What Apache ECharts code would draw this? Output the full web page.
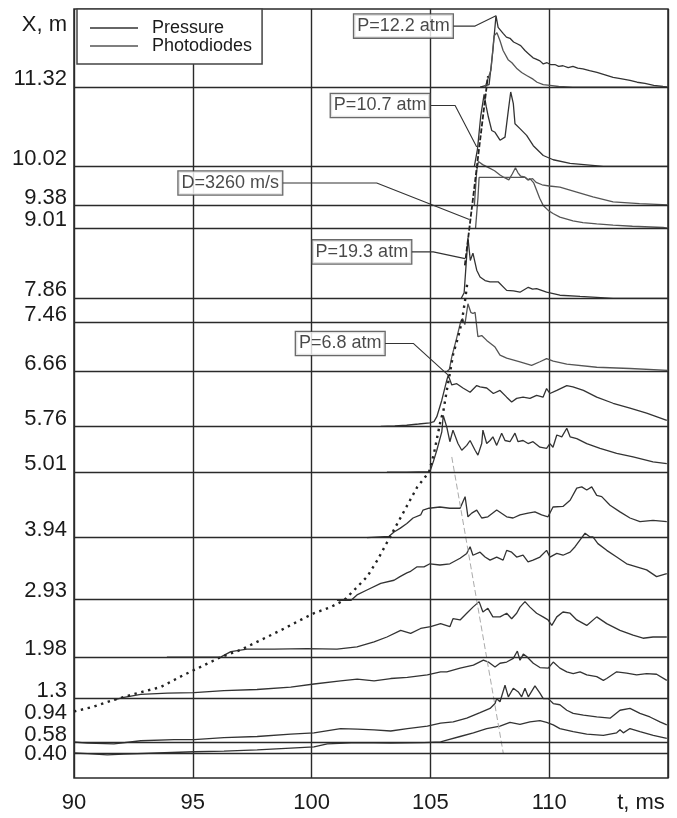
<!DOCTYPE html>
<html><head><meta charset="utf-8">
<script src="https://cdn.jsdelivr.net/npm/echarts@6/dist/echarts.min.js"></script>
<style>html,body{margin:0;padding:0;background:#fff}#c{width:677px;height:818px}</style>
</head><body><div id="c"></div>
<script>
const FONT = '"Liberation Sans", Arial, Helvetica, sans-serif';

// Axis ticks / labels
const yTickValues = [0.40, 0.58, 0.94, 1.3, 1.98, 2.93, 3.94, 5.01, 5.76, 6.66, 7.46, 7.86, 9.01, 9.38, 10.02, 11.32];
const yTickLabels = ['0.40', '0.58', '0.94', '1.3', '1.98', '2.93', '3.94', '5.01', '5.76', '6.66', '7.46', '7.86', '9.01', '9.38', '10.02', '11.32'];
const stationLines = [0.40, 0.58, 1.3, 1.98, 2.93, 3.94, 5.01, 5.76, 6.66, 7.46, 7.86, 9.01, 9.38, 10.02, 11.32];

// Traces [t (ms), X (m)]
const p1132 = [[107.09,11.32],[107.47,11.36],[107.63,11.92],[107.76,12.49],[107.85,12.30],[108.06,12.20],[108.2,12.14],[108.35,12.12],[108.5,12.06],[108.65,12.03],[108.8,12.0],[108.98,11.92],[109.15,11.86],[109.32,11.80],[109.45,11.78],[109.61,11.75],[109.75,11.70],[109.91,11.72],[110.05,11.69],[110.24,11.69],[110.4,11.66],[110.58,11.67],[110.8,11.64],[111.0,11.66],[111.2,11.63],[111.42,11.62],[111.7,11.59],[112.01,11.56],[112.35,11.52],[112.69,11.48],[113.0,11.46],[113.4,11.43],[113.7,11.40],[114.03,11.38],[114.4,11.35],[114.79,11.33],[115,11.32]];
const f1132 = [[107.3,11.32],[107.55,11.6],[107.68,12.16],[107.8,12.21],[107.93,12.08],[108.06,11.92],[108.27,11.77],[108.43,11.72],[108.65,11.62],[108.84,11.56],[109.05,11.51],[109.32,11.45],[109.49,11.40],[109.75,11.36],[110.03,11.35],[110.4,11.33],[111.0,11.32],[115,11.32]];
const p1002 = [[106.85,10.02],[106.98,10.3],[107.12,10.85],[107.26,11.2],[107.35,11.0],[107.44,10.83],[107.58,10.61],[107.72,10.58],[107.93,10.45],[108.14,10.50],[108.28,10.94],[108.38,11.24],[108.49,11.05],[108.56,10.72],[108.77,10.64],[109.05,10.53],[109.33,10.36],[109.75,10.20],[110.17,10.13],[110.88,10.07],[112.28,10.02],[115,10.02]];
const f938 = [[106.85,9.38],[106.95,9.95],[107.02,10.1],[107.2,10.05],[107.45,10.0],[107.7,9.95],[107.93,9.88],[108.1,9.84],[108.3,9.80],[108.45,9.9],[108.58,10.0],[108.68,9.92],[108.8,9.86],[108.95,9.85],[109.12,9.80],[109.3,9.82],[109.45,9.76],[109.7,9.72],[110.0,9.70],[110.45,9.68],[111.16,9.60],[111.84,9.52],[112.69,9.44],[113.8,9.41],[115,9.39]];
const f901 = [[106.9,9.01],[107.0,9.5],[107.05,9.84],[109.0,9.84],[109.1,9.80],[109.19,9.82],[109.35,9.75],[109.47,9.63],[109.6,9.50],[109.75,9.38],[109.96,9.30],[110.16,9.25],[110.45,9.19],[111.0,9.13],[111.42,9.10],[112.0,9.08],[112.69,9.06],[113.5,9.04],[114.79,9.02],[115,9.01]];
const p786 = [[106.3,7.86],[106.42,7.95],[106.5,8.4],[106.58,8.85],[106.68,8.48],[106.79,8.60],[106.95,8.32],[107.09,8.21],[107.3,8.15],[107.51,8.13],[107.85,8.13],[108.21,7.99],[108.5,7.98],[108.77,7.96],[109.12,8.04],[109.3,8.01],[109.47,8.02],[109.89,7.96],[110.45,7.91],[111.3,7.89],[112.69,7.86],[115,7.86]];
const f666 = [[105.7,6.66],[105.8,6.70],[105.9,6.9],[106.1,7.2],[106.27,7.47],[106.35,7.53],[106.45,7.43],[106.58,7.77],[106.7,7.63],[106.79,7.61],[106.88,7.63],[107.0,7.23],[107.16,7.25],[107.37,7.17],[107.72,7.06],[107.93,6.93],[108.21,6.88],[108.77,6.82],[109.26,6.76],[109.61,6.82],[109.89,6.87],[110.17,6.83],[110.74,6.78],[112.0,6.73],[113.4,6.71],[115,6.68]];
const p576 = [[102.91,5.76],[103.5,5.77],[104.0,5.78],[104.5,5.80],[104.98,5.82],[105.15,5.84],[105.27,5.92],[105.48,6.19],[105.69,6.52],[105.75,6.60],[105.9,6.44],[106.11,6.46],[106.37,6.39],[106.67,6.32],[106.95,6.43],[107.09,6.41],[107.37,6.39],[107.65,6.30],[107.93,6.35],[108.21,6.24],[108.42,6.16],[108.63,6.22],[108.9,6.24],[109.19,6.22],[109.47,6.27],[109.74,6.24],[109.89,6.38],[110.03,6.30],[110.32,6.35],[110.74,6.43],[111.0,6.41],[111.44,6.35],[112.0,6.24],[112.69,6.14],[113.4,6.06],[114.1,5.98],[114.95,5.86]];
const p501 = [[103.17,5.01],[104.0,5.01],[104.98,5.02],[105.12,5.18],[105.27,5.37],[105.48,5.67],[105.54,5.94],[105.69,5.75],[105.82,5.51],[105.95,5.70],[106.16,5.48],[106.32,5.37],[106.53,5.45],[106.67,5.53],[106.88,5.37],[107.0,5.29],[107.16,5.48],[107.21,5.70],[107.37,5.48],[107.51,5.53],[107.63,5.59],[107.79,5.45],[108.0,5.65],[108.14,5.53],[108.35,5.51],[108.56,5.65],[108.69,5.51],[108.9,5.53],[109.11,5.48],[109.32,5.51],[109.61,5.42],[109.89,5.40],[110.03,5.48],[110.16,5.42],[110.32,5.62],[110.53,5.59],[110.74,5.73],[110.88,5.59],[111.16,5.56],[111.58,5.48],[112.14,5.40],[112.84,5.32],[113.53,5.26],[114.37,5.18],[114.95,5.15]];
const p394 = [[102.33,3.94],[103.26,3.96],[103.47,4.03],[103.72,4.09],[104.01,4.17],[104.27,4.26],[104.59,4.31],[104.69,4.39],[104.94,4.42],[105.4,4.44],[105.82,4.42],[106.25,4.42],[106.46,4.61],[106.58,4.28],[106.74,4.34],[106.95,4.39],[107.16,4.26],[107.42,4.28],[107.79,4.39],[108.21,4.28],[108.48,4.26],[108.77,4.31],[109.11,4.34],[109.4,4.36],[109.68,4.31],[109.95,4.28],[110.16,4.44],[110.58,4.45],[110.88,4.55],[111.16,4.75],[111.37,4.77],[111.58,4.72],[111.79,4.77],[112.0,4.63],[112.21,4.61],[112.56,4.47],[112.98,4.36],[113.4,4.26],[113.82,4.20],[114.37,4.22],[114.95,4.20]];
const p293 = [[101.07,2.91],[101.65,2.91],[101.91,3.00],[102.33,3.08],[102.91,3.19],[103.47,3.24],[103.72,3.30],[104.01,3.36],[104.14,3.38],[104.44,3.46],[104.73,3.46],[104.98,3.51],[105.4,3.49],[105.82,3.51],[106.25,3.60],[106.53,3.68],[106.67,3.79],[106.79,3.65],[107.09,3.70],[107.3,3.62],[107.51,3.57],[107.79,3.62],[108.06,3.57],[108.21,3.73],[108.42,3.70],[108.63,3.62],[108.9,3.65],[109.11,3.54],[109.32,3.57],[109.61,3.62],[109.89,3.73],[110.03,3.62],[110.32,3.68],[110.58,3.65],[110.88,3.70],[111.09,3.79],[111.3,3.90],[111.51,4.01],[111.72,3.95],[111.84,3.95],[112.05,3.84],[112.42,3.73],[112.84,3.62],[113.26,3.51],[113.68,3.46],[114.1,3.41],[114.52,3.30],[114.95,3.35]];
const p198 = [[93.91,1.98],[96.17,1.98],[96.6,2.07],[97.28,2.11],[98.42,2.11],[99.81,2.12],[101.07,2.11],[101.91,2.15],[102.63,2.23],[103.17,2.31],[103.75,2.42],[104.17,2.37],[104.59,2.45],[105.01,2.48],[105.43,2.53],[105.82,2.48],[105.95,2.61],[106.25,2.59],[106.53,2.70],[106.79,2.80],[107.05,2.89],[107.21,2.72],[107.42,2.78],[107.63,2.64],[107.93,2.64],[108.21,2.70],[108.42,2.61],[108.63,2.70],[108.77,2.80],[108.98,2.89],[109.19,2.80],[109.47,2.70],[109.74,2.64],[109.95,2.59],[110.11,2.50],[110.32,2.64],[110.58,2.72],[110.88,2.70],[111.16,2.59],[111.58,2.50],[112.0,2.64],[112.42,2.53],[112.98,2.42],[113.53,2.34],[113.95,2.29],[114.37,2.31],[114.95,2.31]];
const p130 = [[91.68,1.28],[92.1,1.32],[92.81,1.37],[93.93,1.39],[95.05,1.40],[96.31,1.43],[97.7,1.45],[99.12,1.49],[100.1,1.54],[101.22,1.59],[101.92,1.62],[102.63,1.59],[103.33,1.63],[104.03,1.65],[104.87,1.69],[105.43,1.74],[105.69,1.74],[106.25,1.80],[106.81,1.85],[107.23,1.93],[107.44,1.90],[107.72,1.82],[107.93,1.88],[108.21,1.90],[108.49,1.96],[108.66,2.08],[108.77,1.93],[108.91,2.03],[109.05,1.99],[109.33,1.88],[109.61,1.81],[109.96,1.80],[110.17,1.90],[110.45,1.80],[110.74,1.74],[111.01,1.71],[111.3,1.74],[111.58,1.69],[112.0,1.66],[112.28,1.60],[112.42,1.63],[112.84,1.74],[113.26,1.72],[113.68,1.69],[114.1,1.71],[114.52,1.70],[114.95,1.60]];
const p058 = [[90.0,0.59],[90.56,0.57],[91.68,0.56],[92.81,0.61],[94.21,0.63],[95.05,0.63],[96.31,0.66],[97.71,0.68],[99.12,0.72],[100.1,0.74],[101.22,0.81],[101.92,0.80],[102.63,0.79],[103.33,0.77],[104.03,0.81],[104.87,0.85],[105.43,0.90],[105.96,0.92],[106.53,0.98],[107.09,1.07],[107.51,1.14],[107.72,1.22],[107.79,1.30],[107.93,1.25],[108.14,1.52],[108.28,1.33],[108.49,1.47],[108.7,1.41],[108.84,1.33],[108.98,1.47],[109.12,1.33],[109.4,1.51],[109.61,1.39],[109.75,1.30],[109.96,1.30],[110.17,1.22],[110.45,1.20],[110.74,1.11],[111.01,1.06],[111.44,1.03],[112.0,1.00],[112.56,0.98],[112.98,1.11],[113.4,1.14],[113.82,1.06],[114.24,1.00],[114.66,0.92],[114.95,0.87]];
const p040 = [[90.0,0.41],[90.56,0.40],[91.4,0.38],[92.1,0.39],[93.51,0.41],[95.05,0.43],[96.31,0.44],[97.71,0.46],[99.12,0.49],[100.1,0.51],[100.66,0.56],[101.92,0.58],[103.33,0.57],[104.73,0.58],[105.43,0.59],[105.69,0.62],[106.25,0.68],[106.81,0.74],[107.37,0.81],[107.93,0.85],[108.35,0.91],[108.77,0.88],[109.19,0.92],[109.61,0.94],[109.89,0.91],[110.17,0.87],[110.45,0.81],[111.01,0.76],[111.58,0.72],[112.28,0.70],[112.84,0.74],[112.98,0.79],[113.12,0.74],[113.4,0.81],[113.82,0.76],[114.38,0.70],[114.95,0.65]];

// Front trajectory (dotted), detonation line D, reflected wave
const trajectory = [[90.0,1.09],[90.84,1.17],[91.68,1.28],[92.66,1.39],[93.65,1.49],[94.63,1.69],[95.33,1.82],[96.17,1.98],[97.02,2.10],[97.86,2.26],[98.7,2.42],[99.54,2.59],[100.1,2.70],[100.8,2.80],[101.36,2.91],[101.92,3.13],[102.34,3.30],[102.77,3.57],[103.26,3.92],[103.68,4.22],[104.03,4.47],[104.45,4.77],[104.94,5.01],[105.15,5.32],[105.29,5.59],[105.43,5.86],[105.54,6.0],[105.69,6.35],[105.82,6.63],[105.96,6.95],[106.17,7.23],[106.32,7.47],[106.46,7.83],[106.55,8.1]];
const detonationLine = [[106.45,8.4],[107.42,11.5]];
const reflectedLine = [[105.90,5.26],[108.07,0.40]];

// Annotations: first point = box anchor, elbow, target
const annotationText = ['P=12.2 atm', 'P=10.7 atm', 'D=3260 m/s', 'P=19.3 atm', 'P=6.8 atm'];
const leader1 = [[105.96,12.32],[106.88,12.32],[107.76,12.49]];
const leader2 = [[104.98,11.02],[106.04,11.02],[106.95,10.34]];
const leader3 = [[98.78,9.75],[102.74,9.75],[106.64,9.15]];
const leader4 = [[104.21,8.62],[105.12,8.62],[106.46,8.51]];
const leader5 = [[103.09,7.12],[104.28,7.12],[105.75,6.60]];
const leaders = [leader1, leader2, leader3, leader4, leader5];

const PCOL = '#333333', FCOL = '#555555', GRID = '#2a2a2a';

function trace(name, data, color) {
  return { type: 'line', name, data, symbol: 'none', showSymbol: false, silent: true,
    lineStyle: { color, width: 1.3 }, itemStyle: { color }, z: 3 };
}

const series = [
  { type: 'line', name: 'stations', data: [], silent: true, z: 2,
    markLine: { silent: true, symbol: ['none', 'none'], label: { show: false },
      lineStyle: { color: GRID, width: 1.4, type: 'solid' },
      data: stationLines.map(v => ({ yAxis: v })) } },
  trace('Pressure', p1132, PCOL),
  trace('Photodiodes', f1132, FCOL),
  trace('Pressure', p1002, PCOL),
  trace('Photodiodes', f938, FCOL),
  trace('Photodiodes', f901, FCOL),
  trace('Pressure', p786, PCOL),
  trace('Photodiodes', f666, FCOL),
  trace('Pressure', p576, PCOL),
  trace('Pressure', p501, PCOL),
  trace('Pressure', p394, PCOL),
  trace('Pressure', p293, PCOL),
  trace('Pressure', p198, PCOL),
  trace('Pressure', p130, PCOL),
  trace('Pressure', p058, PCOL),
  trace('Pressure', p040, PCOL),
  { type: 'line', name: 'front', data: trajectory, symbol: 'none', silent: true, z: 4,
    lineStyle: { color: '#222', width: 2.4, type: [2.4, 4.6] } },
  { type: 'line', name: 'D', data: detonationLine, symbol: 'none', silent: true, z: 4,
    lineStyle: { color: '#222', width: 1.8, type: [5, 2] } },
  { type: 'line', name: 'reflected', data: reflectedLine, symbol: 'none', silent: true, z: 3,
    lineStyle: { color: '#aaaaaa', width: 1, type: [6, 3] } }
];
leaders.forEach((d, i) => series.push({ type: 'line', name: 'leader' + i, data: d, symbol: 'none',
  silent: true, z: 5, lineStyle: { color: '#333', width: 1.1 } }));
series.push({ type: 'scatter', name: 'annotations', silent: true, z: 10, symbolSize: 1,
  itemStyle: { color: 'rgba(0,0,0,0)' },
  data: leaders.map((d, i) => ({ value: d[0], name: annotationText[i] })),
  label: { show: true, position: 'left', distance: 0, formatter: p => p.name,
    fontSize: 18, fontFamily: FONT, color: '#1a1a1a', backgroundColor: '#fff',
    borderColor: '#444', borderWidth: 1.3, padding: [2, 3, 1, 3], lineHeight: 20 } });

const option = {
  animation: false,
  backgroundColor: '#fff',
  grid: { left: 74, right: 9, top: 9, bottom: 40, show: true, borderColor: GRID, borderWidth: 1.5 },
  xAxis: { type: 'value', min: 90, max: 115, interval: 5,
    axisLine: { show: false }, axisTick: { show: false },
    splitLine: { show: true, lineStyle: { color: GRID, width: 1.4 } },
    axisLabel: { fontSize: 22, fontFamily: FONT, color: '#1a1a1a', margin: 14,
      formatter: v => v === 115 ? '{r|t, ms}' : String(v),
      rich: { r: { fontSize: 22, fontFamily: FONT, color: '#1a1a1a', padding: [0, 54, 0, 0] } } } },
  yAxis: { type: 'value', min: 0, max: 12.6,
    axisLine: { show: false }, axisTick: { show: false }, axisLabel: { show: false }, splitLine: { show: false } },
  legend: { data: ['Pressure', 'Photodiodes'], orient: 'vertical', left: 77, top: 9, z: 20,
    icon: 'rect', itemWidth: 48, itemHeight: 1.5, itemGap: 0, padding: [10, 10, 9, 13],
    borderColor: '#444', borderWidth: 1.5, backgroundColor: '#fff', selectedMode: false,
    textStyle: { fontSize: 18, fontFamily: FONT, color: '#1a1a1a', padding: [0, 0, 0, 9], lineHeight: 18 } },
  series
};

const chart = echarts.init(document.getElementById('c'), null, { renderer: 'canvas' });
chart.setOption(option);

// y labels sit just above their lines; crowded ones are pushed down
const order = yTickValues.map((v, i) => i).sort((a, b) => yTickValues[b] - yTickValues[a]);
const items = [];
let prev = null;
for (const i of order) {
  let c = chart.convertToPixel({ yAxisIndex: 0 }, yTickValues[i]) - 8;
  if (prev !== null && c < prev + 19) c = prev + 19;
  prev = c;
  items.push({ type: 'text', x: 67, y: c, silent: true,
    style: { text: yTickLabels[i], textAlign: 'right', textVerticalAlign: 'middle', align: 'right', verticalAlign: 'middle',
      fill: '#1a1a1a', font: '22px ' + FONT } });
}
items.push({ type: 'text', x: 67, y: 25, silent: true,
  style: { text: 'X, m', textAlign: 'right', textVerticalAlign: 'middle', align: 'right', verticalAlign: 'middle',
    fill: '#1a1a1a', font: '22px ' + FONT } });
chart.setOption({ graphic: items });
</script></body></html>
